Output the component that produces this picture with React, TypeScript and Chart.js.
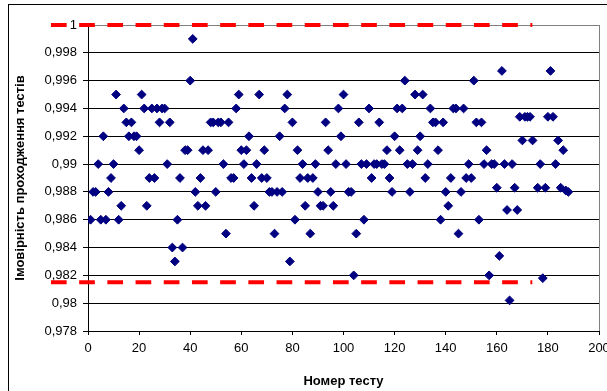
import React, { useEffect, useRef } from 'react';
import { Chart, registerables } from 'chart.js';

Chart.register(...registerables);

const testNumbers = [
  1, 2, 3, 4, 5, 6, 7, 8, 9, 10,
  11, 12, 13, 14, 15, 16, 17, 18, 19, 20,
  21, 22, 23, 24, 25, 26, 27, 28, 29, 30,
  31, 32, 33, 34, 35, 36, 37, 38, 39, 40,
  41, 42, 43, 44, 45, 46, 47, 48, 49, 50,
  51, 52, 53, 54, 55, 56, 57, 58, 59, 60,
  61, 62, 63, 64, 65, 66, 67, 68, 69, 70,
  71, 72, 73, 74, 75, 76, 77, 78, 79, 80,
  81, 82, 83, 84, 85, 86, 87, 88, 89, 90,
  91, 92, 93, 94, 95, 96, 97, 98, 99, 100,
  101, 102, 103, 104, 105, 106, 107, 108, 109, 110,
  111, 112, 113, 114, 115, 116, 117, 118, 119, 120,
  121, 122, 123, 124, 125, 126, 127, 128, 129, 130,
  131, 132, 133, 134, 135, 136, 137, 138, 139, 140,
  141, 142, 143, 144, 145, 146, 147, 148, 149, 150,
  151, 152, 153, 154, 155, 156, 157, 158, 159, 160,
  161, 162, 163, 164, 165, 166, 167, 168, 169, 170,
  171, 172, 173, 174, 176, 177, 178, 179, 180,
  181, 182, 183, 184, 185, 186, 187, 188,
];

const probabilities = [
  0.986, 0.988, 0.988, 0.990, 0.986, 0.992, 0.986, 0.988, 0.989, 0.990,
  0.995, 0.986, 0.987, 0.994, 0.993, 0.992, 0.993, 0.992, 0.992, 0.991,
  0.995, 0.994, 0.987, 0.989, 0.994, 0.989, 0.994, 0.993, 0.994, 0.994,
  0.990, 0.993, 0.984, 0.983, 0.986, 0.989, 0.984, 0.991, 0.991, 0.996,
  0.999, 0.988, 0.987, 0.989, 0.991, 0.987, 0.991, 0.993, 0.993, 0.988,
  0.993, 0.993, 0.990, 0.985, 0.993, 0.989, 0.989, 0.994, 0.995, 0.991,
  0.990, 0.991, 0.992, 0.989, 0.987, 0.990, 0.995, 0.989, 0.991, 0.989,
  0.988, 0.988, 0.985, 0.988, 0.992, 0.988, 0.994, 0.995, 0.983, 0.993,
  0.986, 0.991, 0.989, 0.990, 0.987, 0.989, 0.985, 0.989, 0.990, 0.988,
  0.987, 0.987, 0.993, 0.991, 0.988, 0.987, 0.990, 0.994, 0.992, 0.995,
  0.990, 0.988, 0.988, 0.982, 0.985, 0.993, 0.990, 0.986, 0.990, 0.994,
  0.989, 0.990, 0.990, 0.993, 0.990, 0.990, 0.991, 0.989, 0.988, 0.992,
  0.994, 0.991, 0.994, 0.996, 0.990, 0.988, 0.990, 0.995, 0.991, 0.992,
  0.995, 0.989, 0.990, 0.994, 0.993, 0.993, 0.991, 0.986, 0.993, 0.988,
  0.987, 0.989, 0.994, 0.994, 0.985, 0.988, 0.994, 0.989, 0.990, 0.989,
  0.996, 0.993, 0.986, 0.993, 0.990, 0.991, 0.982, 0.990, 0.990, 0.9883,
  0.9834, 0.9967, 0.990, 0.9867, 0.9802, 0.990, 0.9883, 0.9867, 0.9934, 0.9917,
  0.9934, 0.9934, 0.9934, 0.9917, 0.9883, 0.990, 0.9818, 0.9883, 0.9934,
  0.9967, 0.9934, 0.990, 0.9917, 0.9883, 0.991, 0.9881, 0.9880,
];

const yTickValues = [0.978, 0.98, 0.982, 0.984, 0.986, 0.988, 0.99, 0.992, 0.994, 0.996, 0.998, 1];
const xTickValues = [0, 20, 40, 60, 80, 100, 120, 140, 160, 180, 200];

const upperLimit = 1;
const lowerLimit = 0.9815;
const limitStartX = -14.5;
const limitEndX = 173.9;

const xTitle = 'Номер тесту';
const yTitle = 'Імовірність проходження тестів';

const FONT = "'Liberation Sans', Arial, sans-serif";

export default function App() {
  const canvasRef = useRef<HTMLCanvasElement | null>(null);

  useEffect(() => {
    const canvas = canvasRef.current;
    if (!canvas) return;
    Chart.defaults.font.family = FONT;
    Chart.defaults.color = '#000';

    const points = testNumbers.map((x, i) => ({ x, y: probabilities[i] }));

    const chart = new Chart(canvas, {
      type: 'scatter',
      data: {
        datasets: [
          {
            label: 'p',
            data: points,
            pointStyle: 'rectRot',
            pointRadius: 4.4,
            pointBackgroundColor: '#000080',
            pointBorderColor: '#000080',
            pointBorderWidth: 1,
            showLine: false,
          },
          {
            label: 'upper',
            data: [
              { x: limitStartX, y: upperLimit },
              { x: limitEndX, y: upperLimit },
            ],
            showLine: true,
            pointRadius: 0,
            borderColor: '#ff0000',
            borderWidth: 4,
            borderDash: [15.7, 12.5],
            clip: false as any,
          },
          {
            label: 'lower',
            data: [
              { x: limitStartX, y: lowerLimit },
              { x: limitEndX, y: lowerLimit },
            ],
            showLine: true,
            pointRadius: 0,
            borderColor: '#ff0000',
            borderWidth: 4,
            borderDash: [15.7, 12.5],
            clip: false as any,
          },
        ],
      },
      options: {
        animation: false,
        responsive: false,
        devicePixelRatio: 1,
        layout: { padding: { left: 0, right: 8, top: 25, bottom: 0 } },
        plugins: {
          legend: { display: false },
          tooltip: { enabled: false },
        },
        scales: {
          x: {
            type: 'linear',
            min: 0,
            max: 200,
            afterBuildTicks: (scale: any) => {
              scale.ticks = xTickValues.map((v) => ({ value: v }));
            },
            afterFit: (scale: any) => {
              scale.height = 60;
              scale.paddingLeft = 0;
              scale.paddingRight = 0;
            },
            ticks: {
              font: { size: 13, family: FONT },
              color: '#000',
              padding: 6,
              maxRotation: 0,
              autoSkip: false,
            },
            grid: {
              color: (ctx: any) => (ctx.tick && ctx.tick.value === 200 ? '#808080' : 'rgba(0,0,0,0)'),
              tickColor: '#000',
              tickLength: 4,
              lineWidth: 1,
            },
            border: { color: '#000', width: 1 },
            title: {
              display: true,
              text: xTitle,
              font: { size: 13, weight: 'bold', family: FONT },
              color: '#000',
              padding: { top: 0, bottom: 2 },
            },
          },
          y: {
            type: 'linear',
            min: 0.978,
            max: 1,
            afterBuildTicks: (scale: any) => {
              scale.ticks = yTickValues.map((v) => ({ value: v }));
            },
            afterFit: (scale: any) => {
              scale.width = 88;
            },
            ticks: {
              font: { size: 13, family: FONT },
              color: '#000',
              padding: 6,
              callback: (v: any) => String(Number(Number(v).toFixed(3))).replace('.', ','),
            },
            grid: {
              color: (ctx: any) => (ctx.tick && ctx.tick.value === 1 ? '#808080' : '#000'),
              tickColor: '#000',
              tickLength: 5,
              lineWidth: 1,
            },
            border: { color: '#000', width: 1 },
            title: {
              display: true,
              text: yTitle,
              font: { size: 13, weight: 'bold', family: FONT },
              color: '#000',
              padding: { top: 13, bottom: 0 },
            },
          },
        },
      },
    } as any);

    return () => chart.destroy();
  }, []);

  return (
    <div
      style={{
        position: 'absolute',
        left: 0,
        top: 0,
        width: 607,
        height: 391,
        background: '#fff',
        overflow: 'hidden',
      }}
    >
      <canvas ref={canvasRef} width={607} height={391} style={{ display: 'block', position: 'absolute', left: 0, top: 0 }} />
      <div
        style={{
          position: 'absolute',
          left: 8,
          top: 4,
          width: 700,
          height: 500,
          border: '1px solid #000',
          pointerEvents: 'none',
        }}
      />
    </div>
  );
}
